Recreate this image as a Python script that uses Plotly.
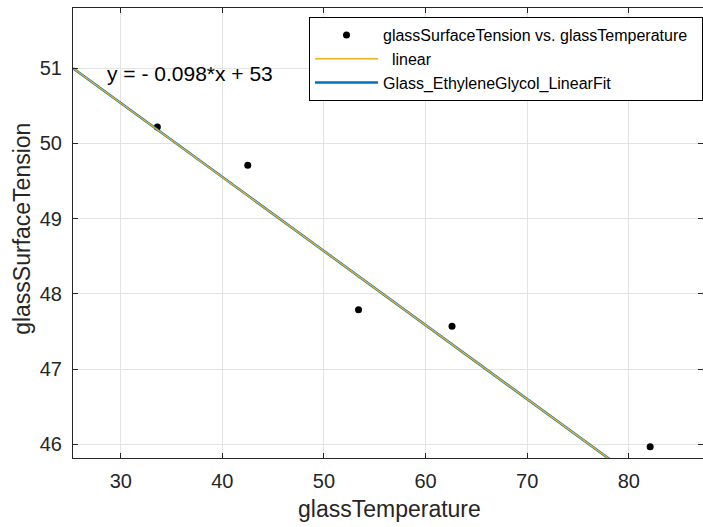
import plotly.graph_objects as go

# data
glassTemperature = [33.6, 42.5, 53.4, 62.6, 82.1]
glassSurfaceTension = [50.22, 49.71, 47.79, 47.57, 45.97]

fit_x = [25.3, 87.3]
fit_y = [51.0, 44.9]

eq_label = "y = - 0.098*x + 53"
x_title = "glassTemperature"
y_title = "glassSurfaceTension"

font_family = "Liberation Sans, Arial, Helvetica, sans-serif"
dark = "#262626"

fig = go.Figure()
fig.add_trace(go.Scatter(x=glassTemperature, y=glassSurfaceTension, mode="markers",
                         marker=dict(color="black", size=7),
                         name="glassSurfaceTension vs. glassTemperature\u00a0\u00a0", legendrank=1))
fig.add_trace(go.Scatter(x=fit_x, y=fit_y, mode="lines",
                         line=dict(color="#0072BD", width=2.5),
                         name="Glass_EthyleneGlycol_LinearFit", legendrank=3))
fig.add_trace(go.Scatter(x=fit_x, y=fit_y, mode="lines",
                         line=dict(color="#EDB120", width=1.4),
                         name="\u00a0\u00a0linear", legendrank=2))

fig.add_annotation(x=28.45, y=50.93, text=eq_label, showarrow=False,
                   xanchor="left", yanchor="middle",
                   font=dict(size=21, color="black", family=font_family))

# axis titles
fig.add_annotation(xref="paper", yref="paper", x=0.502, y=-0.113, text=x_title,
                   showarrow=False, xanchor="center", yanchor="middle",
                   font=dict(size=23, color=dark, family=font_family))
fig.add_annotation(xref="paper", yref="paper", x=-0.082, y=0.51, text=y_title,
                   showarrow=False, xanchor="center", yanchor="middle", textangle=-90,
                   font=dict(size=23, color=dark, family=font_family))

axis_common = dict(showline=True, linecolor=dark, linewidth=1, mirror="ticks",
                   ticks="inside", ticklen=5, tickcolor=dark,
                   showgrid=True, gridcolor="#e3e3e3", gridwidth=1,
                   zeroline=False,
                   tickfont=dict(size=20, color=dark, family=font_family))

fig.update_layout(
    width=703, height=527,
    margin=dict(l=73, r=0, t=8, b=69, autoexpand=False),
    plot_bgcolor="white", paper_bgcolor="white",
    font=dict(family=font_family, color=dark),
    xaxis=dict(range=[25.3, 87.3], tickvals=[30, 40, 50, 60, 70, 80],
               ticklabelstandoff=5, **axis_common),
    yaxis=dict(range=[45.82, 51.8], tickvals=[46, 47, 48, 49, 50, 51],
               ticklabelstandoff=6, **axis_common),
    legend=dict(x=1, xanchor="right", y=0.98, yanchor="top",
                bgcolor="white", bordercolor="black", borderwidth=1,
                font=dict(size=16, color="black", family=font_family),
                itemwidth=63, tracegroupgap=0),
    showlegend=True,
)

fig.write_html("out.html", config={"displayModeBar": False},
               post_script="document.body.style.margin='0';document.body.style.overflow='hidden';")
